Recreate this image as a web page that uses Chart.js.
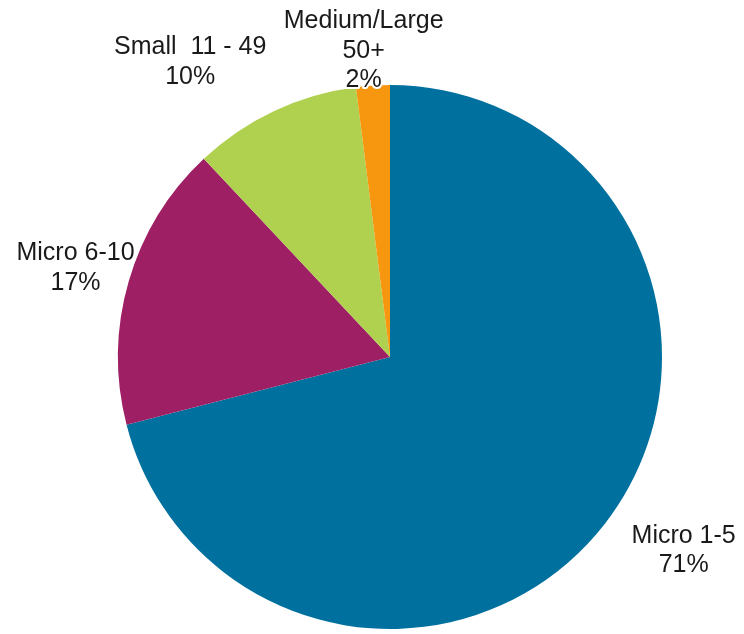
<!DOCTYPE html>
<html>
<head>
<meta charset="utf-8">
<style>
    html, body { margin: 0; padding: 0; background: #fff; }
</style>
</head>
<body>
<canvas id="size_pie" width="744" height="634"></canvas>

<script src="https://cdn.jsdelivr.net/npm/chart.js"></script>
<script>
    const categories = ['Micro 1-5', 'Micro 6-10', 'Small  11 - 49', 'Medium/Large\n50+'];
    const shares = [71, 17, 10, 2];
    const colours = ['#00709e', '#9e1f63', '#b0d150', '#f7960f'];

    // label placement: distance out from the centre (x outer radius) plus a small nudge
    const labelRadius = 1.25;
    const labelNudge = [[25, -15], [12, 6], [-55, 13], [-5, 33]];

    const sliceLabels = {
        id: 'sliceLabels',
        afterDatasetsDraw(chart) {
            const ctx = chart.ctx;
            const meta = chart.getDatasetMeta(0);
            ctx.save();
            ctx.font = '25px Arial, "Liberation Sans", sans-serif';
            ctx.textAlign = 'center';
            ctx.textBaseline = 'middle';
            ctx.lineJoin = 'round';
            meta.data.forEach((arc, i) => {
                const p = arc.getProps(['x', 'y', 'startAngle', 'endAngle', 'outerRadius'], true);
                const mid = (p.startAngle + p.endAngle) / 2;
                const r = p.outerRadius * labelRadius;
                const x = p.x + r * Math.cos(mid) + labelNudge[i][0];
                const y = p.y + r * Math.sin(mid) + labelNudge[i][1];
                const lines = categories[i].split('\n').concat([shares[i] + '%']);
                const lh = 29.5;
                const top = y - (lines.length - 1) * lh / 2;
                lines.forEach((t, k) => {
                    ctx.strokeStyle = '#ffffff';
                    ctx.lineWidth = 4;
                    ctx.strokeText(t, x, top + k * lh);
                    ctx.fillStyle = '#1a1a1a';
                    ctx.fillText(t, x, top + k * lh);
                });
            });
            ctx.restore();
        }
    };

    const size_pie = new Chart(document.getElementById('size_pie'), {
        type: 'pie',
        data: {
            labels: categories,
            datasets: [{
                data: shares,
                backgroundColor: colours,
                borderWidth: 0,
            }]
        },
        options: {
            responsive: false,
            animation: false,
            layout: {
                padding: { top: 85, bottom: 5, left: 118, right: 82 }
            },
            plugins: {
                legend: { display: false },
                tooltip: { enabled: false }
            }
        },
        plugins: [sliceLabels]
    });
</script>
</body>
</html>
